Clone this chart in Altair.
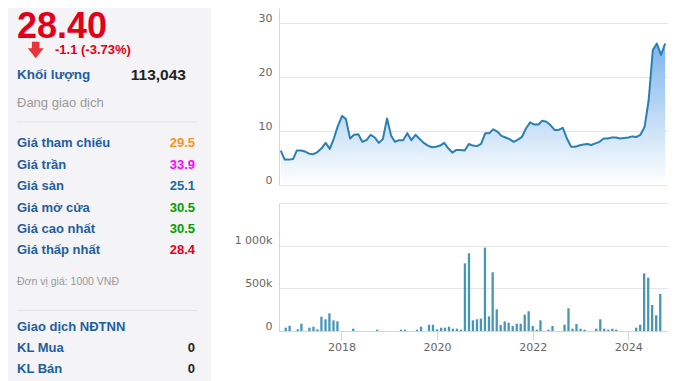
import altair as alt
import pandas as pd

# ---------------- data ----------------
start_month = "2016-11-01"
price = [6.35, 4.7, 4.7, 4.8, 6.4, 6.4, 6.2, 5.8, 5.7, 6.1,
         6.8, 7.8, 6.7, 8.6, 11.0, 12.8, 12.2, 8.6, 9.3, 9.4,
         8.0, 8.3, 9.3, 8.8, 7.8, 8.5, 12.3, 9.1, 8.0, 8.3,
         8.3, 9.6, 8.3, 9.3, 8.5, 7.8, 7.3, 7.0, 7.1, 7.3,
         7.8, 6.8, 6.0, 6.5, 6.5, 6.4, 7.6, 7.3, 7.2, 7.6,
         9.6, 9.6, 10.3, 9.9, 9.1, 8.8, 8.5, 8.0, 8.4, 8.9,
         10.5, 11.6, 11.2, 11.2, 11.9, 11.7, 11.1, 10.2, 10.2, 10.6,
         8.6, 7.1, 7.1, 7.3, 7.5, 7.6, 7.4, 7.7, 8.0, 8.6,
         8.6, 8.8, 8.8, 8.6, 8.7, 8.8, 9.0, 8.9, 9.3, 10.8,
         15.7, 25.0, 26.2, 24.1, 26.2]
volume_k = [39, 62, 0, 20, 86, 0, 39, 51, 20, 168,
            137, 207, 125, 113, 0, 0, 0, 27, 0, 0,
            0, 0, 0, 16, 0, 0, 0, 0, 0, 16,
            16, 0, 0, 16, 51, 0, 74, 74, 20, 39,
            39, 51, 27, 27, 16, 793, 911, 125, 137, 145,
            977, 172, 688, 254, 70, 113, 98, 59, 86, 86,
            192, 231, 59, 16, 125, 0, 16, 59, 0, 0,
            74, 266, 27, 82, 27, 16, 0, 0, 27, 137,
            27, 16, 27, 16, 0, 0, 0, 0, 39, 74,
            676, 625, 305, 184, 434]
year_ticks = [2018, 2020, 2022, 2024]

last_price = "28.40"
change_text = "-1.1 (-3.73%)"
volume_label = "Khối lượng"
volume_value = "113,043"
status_text = "Đang giao dịch"
stat_labels = ["Giá tham chiếu", "Giá trần", "Giá sàn", "Giá mở cửa", "Giá cao nhất", "Giá thấp nhất"]
stat_values = ["29.5", "33.9", "25.1", "30.5", "30.5", "28.4"]
stat_colors = ["#f7941d", "#ff00ff", "#166da0", "#00a000", "#00a000", "#e2001a"]
unit_text = "Đơn vị giá: 1000 VNĐ"
foreign_labels = ["Giao dịch NĐTNN", "KL Mua", "KL Bán"]
foreign_values = ["", "0", "0"]

# ---------------- styles ----------------
FONT = "Liberation Sans"
AXIS_FONT = "DejaVu Sans"
LBL = "#1f5e9e"
RED = "#e2001a"
GRID = "#e6e6e6"
AXLINE = "#ccd6eb"

df = pd.DataFrame({
    "date": pd.date_range(start_month, periods=len(price), freq="MS"),
    "price": price,
    "volume": [v * 1000 for v in volume_k],
})

xscale = alt.Scale(domain=[alt.DateTime(year=2016, month=10, date=19),
                           alt.DateTime(year=2024, month=9, date=22)])

# ---------------- price chart ----------------
pbase = alt.Chart(df).encode(x=alt.X("date:T", scale=xscale, axis=None))
area = pbase.mark_area(
    color=alt.Gradient(gradient="linear",
                       stops=[alt.GradientStop(color="#7cb5ec", offset=0),
                              alt.GradientStop(color="#ffffff", offset=1)],
                       x1=1, x2=1, y1=0, y2=1)
).encode(
    y=alt.Y("price:Q", scale=alt.Scale(domain=[0, 32.78], nice=False),
            axis=alt.Axis(values=[0, 10, 20, 30], title=None, grid=True, gridColor=GRID,
                          domainColor=AXLINE, ticks=False, tickSize=0, labelPadding=7,
                          labelBaseline="bottom", labelColor="#666666", labelFont=AXIS_FONT,
                          labelFontSize=11, minExtent=48, maxExtent=48))
)
line = pbase.mark_line(color="#2a7fb3", strokeWidth=2, strokeJoin="round").encode(y="price:Q")
price_chart = alt.layer(area, line).properties(width=389, height=177)

# ---------------- volume chart ----------------
vol_chart = alt.Chart(df).mark_bar(size=2.3, color="#4596b8").encode(
    x=alt.X("date:T", scale=xscale,
            axis=alt.Axis(values=[alt.DateTime(year=y, month=1, date=1) for y in year_ticks],
                          format="%Y", title=None, grid=False, tickSize=9, tickColor=AXLINE,
                          domainColor=AXLINE, labelPadding=1, labelColor="#666666",
                          labelFont=AXIS_FONT, labelFontSize=11)),
    y=alt.Y("volume:Q", scale=alt.Scale(domain=[0, 1500000], nice=False),
            axis=alt.Axis(values=[0, 500000, 1000000, 1500000], title=None, grid=True,
                          gridColor=GRID, domainColor=AXLINE, ticks=False, tickSize=0,
                          labelPadding=7, labelBaseline="bottom", labelColor="#666666",
                          labelFont=AXIS_FONT, labelFontSize=11, minExtent=48, maxExtent=48,
                          labelExpr="datum.value == 0 ? '0' : (datum.value >= 1500000 ? '' : replace(format(datum.value / 1000, ','), ',', ' ') + 'k')"))
).properties(width=389, height=128)

right = alt.vconcat(price_chart, vol_chart, spacing=18)

# ---------------- left info panel ----------------
one = pd.DataFrame({"k": [0]})

big = alt.Chart(pd.DataFrame({"t": [last_price]})).mark_text(
    align="left", baseline="alphabetic", font=FONT, fontSize=36, fontWeight="bold",
    color=RED, clip=True).encode(text="t:N", x=alt.value(9), y=alt.value(30))

arrow_path = "M -0.45 -1 L 0.45 -1 L 0.45 -0.2 L 0.95 -0.2 L 0 1 L -0.95 -0.2 L -0.45 -0.2 Z"
arrow = alt.Chart(one).mark_point(shape=arrow_path, size=280, filled=True, opacity=1,
                                  color="#e8353a", strokeWidth=0).encode(
    x=alt.value(27.7), y=alt.value(42))

chg = alt.Chart(pd.DataFrame({"t": [change_text]})).mark_text(
    align="left", baseline="middle", font=FONT, fontSize=13, fontWeight="bold",
    color=RED).encode(text="t:N", x=alt.value(47), y=alt.value(42))

vlab = alt.Chart(pd.DataFrame({"t": [volume_label]})).mark_text(
    align="left", baseline="middle", font=FONT, fontSize=13.5, fontWeight="bold",
    color=LBL).encode(text="t:N", x=alt.value(9), y=alt.value(67))
vval = alt.Chart(pd.DataFrame({"t": [volume_value]})).mark_text(
    align="right", baseline="middle", font=FONT, fontSize=15.5, fontWeight="bold",
    color="#222222").encode(text="t:N", x=alt.value(178), y=alt.value(67))
status = alt.Chart(pd.DataFrame({"t": [status_text]})).mark_text(
    align="left", baseline="middle", font=FONT, fontSize=13,
    color="#9a9a9a").encode(text="t:N", x=alt.value(9), y=alt.value(95))

sep1 = alt.Chart(one).mark_rule(color="#e3e3e5", strokeWidth=1).encode(
    x=alt.value(9), x2=alt.value(189), y=alt.value(114))
sep2 = alt.Chart(one).mark_rule(color="#e3e3e5", strokeWidth=1).encode(
    x=alt.value(9), x2=alt.value(189), y=alt.value(302.5))

stats = pd.DataFrame({"i": list(range(len(stat_labels))), "label": stat_labels,
                      "value": stat_values, "color": stat_colors})
srow = alt.Y("i:Q", scale=alt.Scale(domain=[0, 5], range=[135.3, 242.3]), axis=None)
slab = alt.Chart(stats).mark_text(align="left", baseline="middle", font=FONT, fontSize=13,
                                  fontWeight="bold", color=LBL).encode(
    text="label:N", y=srow, x=alt.value(9))
sval = alt.Chart(stats).mark_text(align="right", baseline="middle", font=FONT, fontSize=13,
                                  fontWeight="bold").encode(
    text="value:N", y=srow, x=alt.value(187), color=alt.Color("color:N", scale=None))

unit = alt.Chart(pd.DataFrame({"t": [unit_text]})).mark_text(
    align="left", baseline="middle", font=FONT, fontSize=10.5,
    color="#9a9a9a").encode(text="t:N", x=alt.value(9), y=alt.value(273.7))

foreign = pd.DataFrame({"i": list(range(len(foreign_labels))), "label": foreign_labels,
                        "value": foreign_values})
frow = alt.Y("i:Q", scale=alt.Scale(domain=[0, 2], range=[318.7, 361.3]), axis=None)
flab = alt.Chart(foreign).mark_text(align="left", baseline="middle", font=FONT, fontSize=13,
                                    fontWeight="bold", color=LBL).encode(
    text="label:N", y=frow, x=alt.value(9))
fval = alt.Chart(foreign).mark_text(align="right", baseline="middle", font=FONT, fontSize=13,
                                    fontWeight="bold", color="#222222").encode(
    text="value:N", y=frow, x=alt.value(187))

left = alt.layer(big, arrow, chg, vlab, vval, status, sep1, sep2, slab, sval, unit, flab, fval
                 ).resolve_scale(y="independent").properties(
    width=203, height=373, view=alt.ViewBackground(fill="#f4f3f5", strokeWidth=0))

chart = alt.hconcat(left, right, spacing=20).properties(padding=0).configure_view(strokeWidth=0)

chart.save("out.html", embed_options={"renderer": "svg", "actions": False})
